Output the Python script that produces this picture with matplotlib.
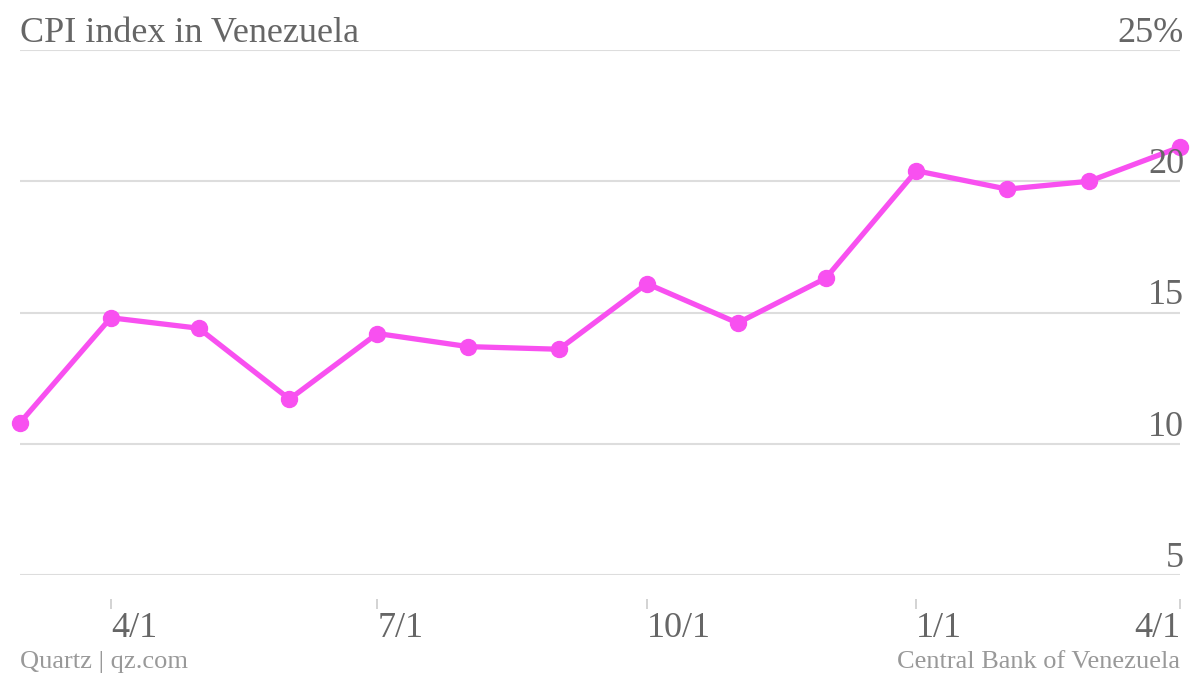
import pandas as pd
import matplotlib.pyplot as plt
import matplotlib.transforms as mtransforms

plt.rcParams['font.family'] = ['Liberation Serif', 'DejaVu Serif']

dates = pd.date_range('2013-03-01', '2014-04-01', freq='MS')
cpi = [10.8, 14.8, 14.4, 11.7, 14.2, 13.7, 13.6, 16.1, 14.6, 16.3, 20.4, 19.7, 20.0, 21.3]
yticks = [5, 10, 15, 20, 25]
ylabels = ['5', '10', '15', '20', '25%']
xtick_dates = pd.to_datetime(['2013-04-01', '2013-07-01', '2013-10-01', '2014-01-01', '2014-04-01'])
xlabels = ['4/1', '7/1', '10/1', '1/1', '4/1']

line_color = '#f850f0'
text_color = '#666666'
grid_color = '#dddddd'

fig = plt.figure(figsize=(12, 6.76), dpi=100)
ax = fig.add_axes([20 / 1200, 101 / 676, 1160 / 1200, 525 / 676])

ax.plot(dates, cpi, color=line_color, lw=3.8, marker='o', ms=11.5,
        solid_capstyle='round', solid_joinstyle='round', zorder=3, clip_on=False)

ax.set_xlim(dates[0], dates[-1])
ax.set_ylim(5, 25)

# horizontal grid
ax.set_yticks(yticks)
ax.yaxis.grid(True, color=grid_color, lw=1.5)
ax.tick_params(axis='y', length=0, labelleft=False)
for s in ['top', 'left', 'right', 'bottom']:
    ax.spines[s].set_visible(False)

# y labels sit above their gridline, right aligned
trans = mtransforms.blended_transform_factory(ax.transAxes, ax.transData)
off = mtransforms.offset_copy(trans, fig=fig, x=4, y=8, units='dots')
for v, lab in zip(yticks, ylabels):
    ax.text(1, v, lab, transform=off, ha='right', va='baseline',
            fontsize=26, color=text_color)

# x ticks below the plot
ax.set_xticks(xtick_dates)
ax.set_xticklabels(xlabels)
ax.xaxis.set_tick_params(length=7.5, width=1.2, color='#cccccc', direction='out',
                         pad=2, labelsize=26, labelcolor=text_color)
ax.spines['bottom'].set_position(('outward', 17))
ticklabels = ax.get_xticklabels()
for t in ticklabels[:-1]:
    t.set_horizontalalignment('left')
ticklabels[-1].set_horizontalalignment('right')

fig.text(20 / 1200, 1 - 42 / 676, 'CPI index in Venezuela', fontsize=26,
         color=text_color, va='baseline', ha='left')
fig.text(20 / 1200, 1 - 668 / 676, 'Quartz | qz.com', fontsize=19,
         color='#999999', va='baseline', ha='left')
fig.text(1180 / 1200, 1 - 668 / 676, 'Central Bank of Venezuela', fontsize=19,
         color='#999999', va='baseline', ha='right')

fig.savefig('out.png', dpi=100)
